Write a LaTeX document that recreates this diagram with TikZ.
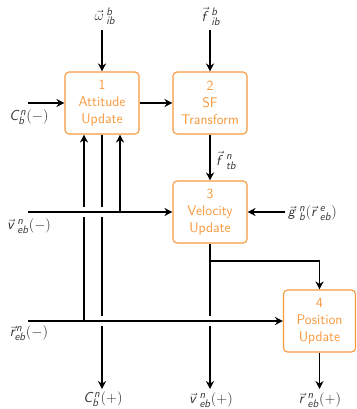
\documentclass[tikz,border=0pt]{standalone}
\usetikzlibrary{arrows.meta}
\DeclareMathAlphabet{\mathsl}{OT1}{cmss}{m}{sl}
\newcommand\sv[1]{\mathsl{#1}}
\definecolor{boxorange}{RGB}{247,152,60}
\tikzset{
  blk/.style={draw=boxorange, text=boxorange, line width=1.1pt, rounded corners=4pt,
    minimum width=74pt, minimum height=62pt, align=center, inner sep=0pt,
    font=\sffamily\fontsize{14}{17}\selectfont},
  flow/.style={line width=1.6pt, -{Stealth[length=8pt,width=8pt]}},
  lbl/.style={font=\fontsize{15}{18}\selectfont, inner sep=1pt, text=black!80},
  gapbox/.style={fill=white, inner sep=0pt, minimum width=6pt, minimum height=10pt},
}
\begin{document}
\begin{tikzpicture}[x=1pt,y=-1pt]
\useasboundingbox (0,0) rectangle (356,409);
% blocks
\node[blk] (b1) at (102,103) {1\\Attitude\\Update};
\node[blk] (b2) at (210,103) {2\\SF\\Transform};
\node[blk] (b3) at (210,212) {3\\Velocity\\Update};
\node[blk, minimum width=72pt] (b4) at (319.5,321) {4\\Position\\Update};
% coordinates
\coordinate (win) at (102,30);
\coordinate (fin) at (210,30);
\coordinate (cin) at (28,103);
\coordinate (vin) at (28,212);
\coordinate (rin) at (28,321);
\coordinate (gin) at (285,212);
\coordinate (rj) at (84,321);
\coordinate (vj) at (120,212);
\coordinate (br) at (210,261);
\coordinate (cout) at (102,389);
\coordinate (vout) at (210,389);
\coordinate (rout) at (319.5,389);
% labels
\node[lbl] (lw) at (105,16) {$\vec{\omega}\,^{\sv{b}}_{\sv{ib}}$};
\node[lbl] (lf) at (211,16) {$\vec{\sv{f}}\,^{\sv{b}}_{\sv{ib}}$};
\node[lbl] (lc) at (29,117) {$\sv{C}^{\sv{n}}_{\sv{b}}(-)$};
\node[lbl] (lv) at (29,226) {$\vec{\sv{v}}\,^{\sv{n}}_{\sv{eb}}(-)$};
\node[lbl] (lr) at (29,333) {$\vec{\sv{r}}^{\sv{n}}_{\sv{eb}}(-)$};
\node[lbl, anchor=west] (lt) at (215,160) {$\vec{\sv{f}}\,^{\sv{n}}_{\sv{tb}}$};
\node[lbl, anchor=west] (lg) at (287,213) {$\vec{\sv{g}}\,^{\sv{n}}_{\sv{b}}(\vec{\sv{r}}\,^{\sv{e}}_{\sv{eb}})$};
\node[lbl] (lco) at (103,399) {$\sv{C}^{\sv{n}}_{\sv{b}}(+)$};
\node[lbl] (lvo) at (211,400) {$\vec{\sv{v}}\,^{\sv{n}}_{\sv{eb}}(+)$};
\node[lbl] (lro) at (320,400) {$\vec{\sv{r}}\,^{\sv{n}}_{\sv{eb}}(+)$};
% vertical connectors (under)
\draw[flow] (rj) -- (rj |- b1.south);
\draw[flow] (b1.south) -- (cout);
\draw[flow] (b3.south) -- (vout);
% crossing gaps
\node[gapbox] (g1) at (84,212) {};
\node[gapbox] (g2) at (102,212) {};
\node[gapbox] (g3) at (102,321) {};
\node[gapbox] (g4) at (210,321) {};
% other connectors
\draw[flow] (win) -- (b1.north);
\draw[flow] (fin) -- (b2.north);
\draw[flow] (cin) -- (b1.west);
\draw[flow] (b1.east) -- (b2.west);
\draw[flow] (b2.south) -- (b3.north);
\draw[flow] (vin) -- (b3.west);
\draw[flow] (gin) -- (b3.east);
\draw[flow] (rin) -- (b4.west);
\draw[flow] (vj) -- (vj |- b1.south);
\draw[flow] (br) -| (b4.north);
\draw[flow] (b4.south) -- (rout);
\end{tikzpicture}
\end{document}
